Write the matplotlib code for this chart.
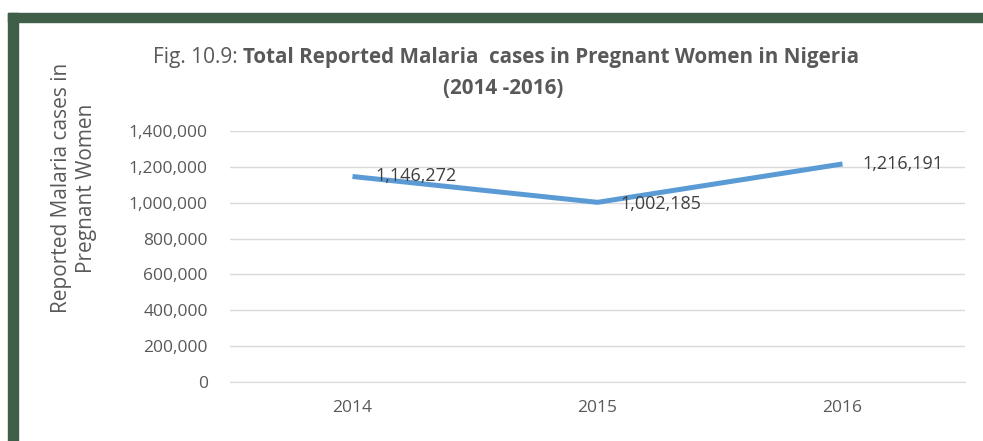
import matplotlib
matplotlib.use("Agg")
import matplotlib.pyplot as plt
from matplotlib.patches import Rectangle
from matplotlib.ticker import FuncFormatter

years = ["2014", "2015", "2016"]
cases = [1146272, 1002185, 1216191]
yticks = [0, 200000, 400000, 600000, 800000, 1000000, 1200000, 1400000]

plt.rcParams['font.family'] = ['Open Sans', 'DejaVu Sans']
W, H = 983, 441
fig = plt.figure(figsize=(W/100, H/100), dpi=100)
fig.patch.set_facecolor('white')

green = '#3f5f48'
fig.patches.append(Rectangle((8/W, 0), 10/W, 1 - 13/H, transform=fig.transFigure, color=green, zorder=0))
fig.patches.append(Rectangle((8/W, 1 - 22/H), 1 - 8/W, 9/H, transform=fig.transFigure, color=green, zorder=0))

ax = fig.add_axes([230/W, 1 - 382/H, (965-230)/W, (382-131)/H])
x = list(range(len(years)))
ax.plot(x, cases, color='#5B9BD5', lw=3.6, solid_capstyle='butt', zorder=3)
ax.set_xlim(-0.5, 2.5)
ax.set_ylim(0, 1400000)
ax.set_yticks(yticks)
ax.yaxis.set_major_formatter(FuncFormatter(lambda v, p: f"{int(v):,}"))
ax.set_xticks(x)
ax.set_xticklabels(years)
ax.grid(axis='y', color='#d9d9d9', lw=1)
ax.set_axisbelow(True)
for s in ax.spines.values():
    s.set_visible(False)
ax.spines['bottom'].set_visible(True)
ax.spines['bottom'].set_color('#d9d9d9')
ax.tick_params(length=0, colors='#595959', labelsize=12.5)
ax.tick_params(axis='y', pad=16)
ax.tick_params(axis='x', pad=13)

offsets = [(16.5, 0), (16.5, -1), (14.5, 0)]
for xi, v, (dx, dy) in zip(x, cases, offsets):
    ax.annotate(f"{v:,}", (xi, v), xytext=(dx, dy), textcoords='offset points',
                ha='left', va='center', fontsize=13, color='#404040')

fig.text(243/W, 1 - 57/H, "Fig. 10.9: ", ha='right', va='center', fontsize=15, color='#595959')
fig.text(243/W, 1 - 57/H, "Total Reported Malaria  cases in Pregnant Women in Nigeria", ha='left', va='center',
         fontsize=14.9, color='#595959', fontweight='bold')
fig.text(503/W, 1 - 88/H, "(2014 -2016)", ha='center', va='center', fontsize=14.9, color='#595959', fontweight='bold')

fig.text(74/W, 1 - 188/H, "Reported Malaria cases in\nPregnant Women", rotation=90, ha='center', va='center',
         fontsize=15, color='#595959', linespacing=1.2)

fig.savefig("out.png", dpi=100)
